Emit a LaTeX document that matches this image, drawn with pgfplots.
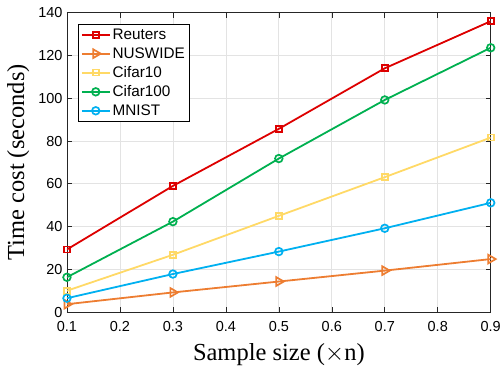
\documentclass[border=0pt]{standalone}
\usepackage{fontspec}
\setmainfont{Liberation Serif}
\newfontfamily\helv{Liberation Sans}
\usepackage{pgfplots}
\pgfplotsset{compat=1.18}
\definecolor{cRe}{RGB}{221,0,0}
\definecolor{cNu}{RGB}{237,125,49}
\definecolor{cC10}{RGB}{255,217,102}
\definecolor{cC100}{RGB}{0,176,80}
\definecolor{cMn}{RGB}{0,176,240}
\begin{document}
\begin{tikzpicture}
\begin{axis}[
  name=ax,
  scale only axis,
  width=424pt, height=299.6pt,
  xmin=0.1, xmax=0.9, ymin=0, ymax=140,
  xtick={0.1,0.2,...,0.9},
  ytick={0,20,...,140},
  xticklabels={0.1,0.2,0.3,0.4,0.5,0.6,0.7,0.8,0.9},
  /pgf/number format/assume math mode=true,
  tick label style={font=\helv\fontsize{14.5}{16}\selectfont},
  xticklabel style={yshift=-6pt},
  yticklabel style={xshift=-1pt},
  tick align=inside,
  major tick length=5pt,
  tick style={black!85, line width=0.6pt},
  axis line style={black!85, line width=0.8pt},
  grid=major,
  major grid style={gray!22, line width=0.7pt},
  xlabel={Sample size ($\times$n)},
  ylabel={Time cost (seconds)},
  label style={font=\fontsize{24.5}{27}\selectfont},
  xlabel style={yshift=-5pt},
  ylabel style={yshift=2pt},
  legend style={at={(0.026,0.962)}, anchor=north west, draw=black, line width=0.8pt,
    font=\helv\fontsize{15.3}{17}\selectfont, row sep=2.6pt, inner sep=2.5pt},
  legend image code/.code={%
    \draw[mark repeat=2,mark phase=2] plot coordinates {(0pt,0pt) (14pt,0pt) (28pt,0pt)};},
  legend cell align=left,
  every axis plot/.append style={line width=1.8pt},
]
\addplot[cRe, mark=square, mark size=3pt, mark options={line width=1.7pt}] coordinates {(0.1,29.3) (0.3,59.0) (0.5,85.7) (0.7,114.0) (0.9,136.0)};
\addlegendentry{Reuters}
\addplot[cNu, mark=triangle, mark size=5pt, mark options={rotate=-90, line width=1.7pt}] coordinates {(0.1,3.7) (0.3,9.2) (0.5,14.3) (0.7,19.4) (0.9,24.8)};
\addlegendentry{NUSWIDE}
\addplot[cC10, mark=square, mark size=3pt, mark options={line width=1.7pt}] coordinates {(0.1,10.0) (0.3,26.8) (0.5,45.0) (0.7,63.1) (0.9,81.6)};
\addlegendentry{Cifar10}
\addplot[cC100, mark=o, mark size=3.8pt, mark options={line width=1.7pt}] coordinates {(0.1,16.3) (0.3,42.3) (0.5,71.8) (0.7,99.2) (0.9,123.6)};
\addlegendentry{Cifar100}
\addplot[cMn, mark=o, mark size=3.8pt, mark options={line width=1.7pt}] coordinates {(0.1,6.5) (0.3,17.8) (0.5,28.3) (0.7,39.2) (0.9,51.1)};
\addlegendentry{MNIST}
\end{axis}
\pgfresetboundingbox
\path[use as bounding box] ([xshift=-67pt,yshift=-56.7pt]ax.south west) rectangle ([xshift=12.3pt,yshift=12.7pt]ax.north east);
\end{tikzpicture}
\end{document}
